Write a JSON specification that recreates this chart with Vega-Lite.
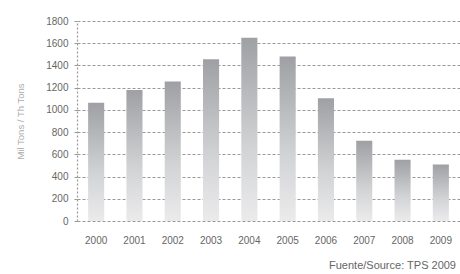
{
  "$schema": "https://vega.github.io/schema/vega-lite/v6.json",
  "width": 383,
  "height": 200,
  "autosize": "none",
  "padding": {"left": 77, "top": 21, "right": 0, "bottom": 53},
  "background": "white",
  "config": {
    "font": "Liberation Sans",
    "view": {"stroke": null}
  },
  "title": {
    "text": "Fuente/Source: TPS 2009",
    "orient": "bottom",
    "anchor": "end",
    "fontSize": 11,
    "fontWeight": "normal",
    "color": "#666666",
    "offset": 15,
    "dx": -4
  },
  "data": {
    "values": [
      {"year": "2000", "value": 1065},
      {"year": "2001", "value": 1180},
      {"year": "2002", "value": 1255},
      {"year": "2003", "value": 1455},
      {"year": "2004", "value": 1650},
      {"year": "2005", "value": 1480},
      {"year": "2006", "value": 1105},
      {"year": "2007", "value": 722},
      {"year": "2008", "value": 552},
      {"year": "2009", "value": 508}
    ]
  },
  "mark": {
    "type": "bar",
    "color": {
      "gradient": "linear",
      "x1": 0, "y1": 0, "x2": 0, "y2": 1,
      "stops": [
        {"offset": 0, "color": "#9fa0a3"},
        {"offset": 0.6, "color": "#d2d3d5"},
        {"offset": 1, "color": "#ebebec"}
      ]
    }
  },
  "encoding": {
    "x": {
      "field": "year",
      "type": "ordinal",
      "scale": {"paddingInner": 0.58, "paddingOuter": 0.29},
      "axis": {
        "title": null,
        "labelAngle": 0,
        "ticks": false,
        "domain": false,
        "labelPadding": 14,
        "labelFontSize": 10,
        "labelColor": "#666666"
      }
    },
    "y": {
      "field": "value",
      "type": "quantitative",
      "scale": {"domain": [0, 1800]},
      "axis": {
        "values": [0, 200, 400, 600, 800, 1000, 1200, 1400, 1600, 1800],
        "format": "d",
        "title": "Mil Tons / Th Tons",
        "titleFontSize": 9.5,
        "titleFontWeight": "normal",
        "titleColor": "#aaaaaa",
        "titlePadding": 20,
        "labelFontSize": 10,
        "labelColor": "#666666",
        "labelPadding": 6,
        "tickSize": 3,
        "tickColor": "#999999",
        "domainColor": "#999999",
        "domainDash": [2, 2],
        "domainWidth": 1.2,
        "grid": true,
        "gridColor": "#999999",
        "gridDash": [3, 2],
        "gridWidth": 1
      }
    }
  }
}
